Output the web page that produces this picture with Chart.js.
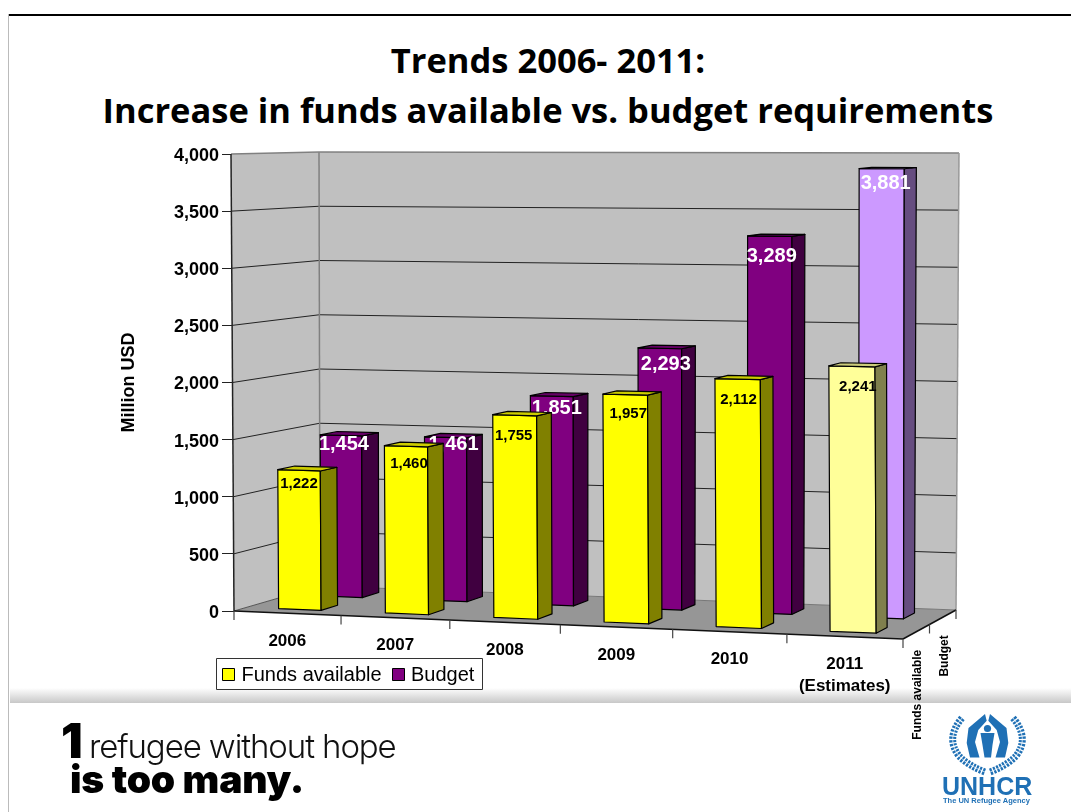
<!DOCTYPE html>
<html>
<head>
<meta charset="utf-8">
<title>Trends 2006- 2011</title>
<script src="https://cdn.jsdelivr.net/npm/chart.js@4"></script>
<style>
    html, body { margin: 0; padding: 0; background: #fff; }
    #page { position: relative; width: 1071px; height: 812px; overflow: hidden; }
    #page div, #page svg { position: absolute; }
    #topline { left: 8px; top: 14px; right: 0; height: 2px; background: #000; }
    #leftline { left: 8px; top: 14px; bottom: 0; width: 1px; background: #bbb; }
    #band { left: 10px; right: 0; top: 688px; height: 15px; background: linear-gradient(#fff, #c8c8c8); }
    #title {
        left: 0; width: 1096px; top: 35px; text-align: center;
        font: 700 34.5px/50px "Open Sans", sans-serif; color: #000;
    }
    canvas { position: absolute; left: 0; top: 0; }
    #one { left: 61px; top: 714px; font: 900 48px/54px Inter, sans-serif; color: #000; letter-spacing: -2px; }
    #line1 { left: 89px; top: 724px; font: 300 33px/44px Inter, sans-serif; color: #111; letter-spacing: -1.1px; white-space: nowrap; }
    #line2 { left: 70px; top: 757px; font: 900 39px/44px Inter, sans-serif; color: #000; letter-spacing: -0.2px; white-space: nowrap; }
    #unhcr { left: 942px; top: 773px; font: 700 25px/26px "Liberation Sans", sans-serif; color: #1f70b5; }
    #agency { left: 943px; top: 796px; font: 700 7.5px/10px "Liberation Sans", sans-serif; color: #1f70b5; white-space: nowrap; }
</style>
</head>
<body>
<div id="page">
    <div id="topline"></div>
    <div id="leftline"></div>
    <div id="band"></div>
    <div id="title">Trends 2006- 2011:<br>Increase in funds available vs. budget requirements</div>
    <canvas id="trendChart" width="1071" height="812"></canvas>
    <div id="one">1</div>
    <div id="line1">refugee without hope</div>
    <div id="line2">is too many.</div>
    <svg style="left:945px;top:708px" width="85" height="68" viewBox="0 0 85 68">
        <g fill="none" stroke="#1f70b5">
            <path d="M17 10 Q0 30 14 48 Q24 58 40 64" stroke-width="7" stroke-dasharray="2.2 1.3"/>
            <path d="M68 10 Q85 30 71 48 Q61 58 45 64" stroke-width="7" stroke-dasharray="2.2 1.3"/>
            <path d="M17 10 Q0 30 14 48 Q24 58 40 64" stroke="#fff" stroke-width="0.7"/>
            <path d="M68 10 Q85 30 71 48 Q61 58 45 64" stroke="#fff" stroke-width="0.7"/>
        </g>
        <g fill="#1f70b5">
            <path d="M40 6 L23.5 20 L21.7 35 L25 49.5 L34.5 49.5 L30 34 L33.3 22 L41.7 12.7 Z"/>
            <path d="M45 6 L61.5 20 L63.3 35 L60 49.5 L50.5 49.5 L55 34 L51.7 22 L43.3 12.7 Z"/>
            <circle cx="42.5" cy="20.5" r="3.6"/>
            <path d="M35.5 25 L49.5 25 L47.5 37 L46 49.5 L39.5 49.5 L37.5 37 Z"/>
        </g>
    </svg>
    <div id="unhcr">UNHCR</div>
    <div id="agency">The UN Refugee Agency</div>
</div>
<script>
const categories = ['2006', '2007', '2008', '2009', '2010', ['2011', '(Estimates)']]
const fundsAvailable = [1222, 1460, 1755, 1957, 2112, 2241]
const budget = [1454, 1461, 1851, 2293, 3289, 3881]
const fundsColors = ['#FFFF00', '#FFFF00', '#FFFF00', '#FFFF00', '#FFFF00', '#FFFF99']
const budgetColors = ['#800080', '#800080', '#800080', '#800080', '#800080', '#CC99FF']
const yTicks = [0, 500, 1000, 1500, 2000, 2500, 3000, 3500, 4000]

// corners of the 3d box in canvas pixels: front/back, left/right, bottom/top
const box = {
    flb: [234, 611], flt: [231, 154], frb: [903, 639], frt: [900, 159],
    blb: [320, 586], blt: [319, 152], brb: [956, 610], brt: [959, 153],
}
const depthSlots = { funds: [0.15, 0.35], budget: [0.65, 0.85] }
const perspective = 1.05

// value labels sit a little off centre on each column
const fundsLabelShift = [[0, 14], [3, 18], [-1, 21], [3, 19], [1, 21], [6, 20]]
const budgetLabelShift = [[3, 9], [8, 7], [5, 12], [6, 16], [2, 20], [4, 15]]

function mix(a, b, t) {
    return [a[0] + (b[0] - a[0]) * t, a[1] + (b[1] - a[1]) * t]
}

// u: along the categories, v: up the value axis, w: into the depth
function project(u, v, w) {
    let k = u / (perspective - (perspective - 1) * u)
    let fb = mix(box.flb, box.frb, k)
    let ft = mix(box.flt, box.frt, k)
    let bb = mix(box.blb, box.brb, k)
    let bt = mix(box.blt, box.brt, k)
    return mix(mix(fb, ft, v), mix(bb, bt, v), w)
}

function shade(hex, f) {
    let n = parseInt(hex.slice(1), 16)
    let r = Math.round((n >> 16 & 255) * f)
    let g = Math.round((n >> 8 & 255) * f)
    let b = Math.round((n & 255) * f)
    return `rgb(${r},${g},${b})`
}

function poly(ctx, pts, fill, stroke, width) {
    ctx.beginPath()
    pts.forEach((p, i) => i ? ctx.lineTo(p[0], p[1]) : ctx.moveTo(p[0], p[1]))
    ctx.closePath()
    if (fill) { ctx.fillStyle = fill; ctx.fill() }
    if (stroke) {
        ctx.strokeStyle = stroke
        ctx.lineWidth = width || 1
        ctx.lineJoin = 'round'
        ctx.stroke()
    }
}

function line(ctx, a, b, color, width) {
    ctx.beginPath()
    ctx.moveTo(a[0], a[1])
    ctx.lineTo(b[0], b[1])
    ctx.strokeStyle = color
    ctx.lineWidth = width || 1
    ctx.stroke()
}

function drawWalls(chart) {
    let ctx = chart.ctx
    let y = chart.scales.y
    poly(ctx, [project(0, 0, 0), project(0, 1, 0), project(0, 1, 1), project(0, 0, 1)], '#C0C0C0')
    poly(ctx, [project(0, 0, 1), project(0, 1, 1), project(1, 1, 1), project(1, 0, 1)], '#C0C0C0')
    poly(ctx, [project(0, 0, 0), project(1, 0, 0), project(1, 0, 1), project(0, 0, 1)], '#969696')

    y.ticks.forEach(t => {
        if (t.value === y.min || t.value === y.max) return
        let v = t.value / y.max
        line(ctx, project(0, v, 0), project(0, v, 1), '#222')
        line(ctx, project(0, v, 1), project(1, v, 1), '#222')
    })

    line(ctx, project(0, 1, 0), project(0, 1, 1), '#808080', 1.5)
    line(ctx, project(0, 1, 1), project(1, 1, 1), '#808080', 1.5)
    line(ctx, project(1, 1, 1), project(1, 0, 1), '#999', 1.5)
    line(ctx, project(0, 0, 1), project(0, 1, 1), '#808080', 1.5)
    line(ctx, project(0, 0, 0), project(0, 1, 0), '#222', 1.5)
    line(ctx, project(0, 0, 0), project(0, 0, 1), '#555', 1)
    line(ctx, project(0, 0, 1), project(1, 0, 1), '#777', 1)
    line(ctx, project(0, 0, 0), project(1, 0, 0), '#111', 1.5)
    line(ctx, project(1, 0, 0), project(1, 0, 1), '#111', 1.5)

    // tick marks under the floor edges
    let n = categories.length
    for (let i = 0; i <= n; i++) {
        let p = project(i / n, 0, 0)
        line(ctx, p, [p[0], p[1] + 9], '#444', 1.2)
    }
    for (let d = 0.5; d <= 1; d += 0.5) {
        let p = project(1, 0, d)
        line(ctx, p, [p[0], p[1] + 9], '#444', 1.2)
    }
}

function drawSeries(chart, index, slot, font, color, shifts) {
    let ctx = chart.ctx
    let area = chart.chartArea
    let meta = chart.getDatasetMeta(index)
    let values = chart.data.datasets[index].data
    let [w0, w1] = slot
    meta.data.forEach((el, i) => {
        let props = el.getProps(['x', 'y', 'width'], true)
        let u0 = (props.x - props.width / 2 - area.left) / area.width
        let u1 = (props.x + props.width / 2 - area.left) / area.width
        let v = (area.bottom - props.y) / area.height
        let fill = el.options.backgroundColor

        // front, side and top faces of the column
        poly(ctx, [project(u0, 0, w0), project(u1, 0, w0), project(u1, v, w0), project(u0, v, w0)], fill, '#000', 1.2)
        poly(ctx, [project(u1, 0, w0), project(u1, 0, w1), project(u1, v, w1), project(u1, v, w0)], shade(fill, 0.5), '#000', 1.2)
        poly(ctx, [project(u0, v, w0), project(u1, v, w0), project(u1, v, w1), project(u0, v, w1)], shade(fill, 0.8), '#000', 1.2)

        let top = project((u0 + u1) / 2, v, w0)
        ctx.font = font
        ctx.fillStyle = color
        ctx.textAlign = 'center'
        ctx.textBaseline = 'middle'
        ctx.fillText(values[i].toLocaleString('en-US'), top[0] + shifts[i][0], top[1] + shifts[i][1])
    })
}

function drawAxisText(chart) {
    let ctx = chart.ctx
    let n = categories.length
    ctx.fillStyle = '#000'
    ctx.textAlign = 'center'
    ctx.textBaseline = 'middle'
    ctx.font = 'bold 17px "Liberation Sans"'
    categories.forEach((c, i) => {
        let p = project((i + 0.5) / n, 0, 0)
        let rows = [].concat(c)
        rows.forEach((r, j) => ctx.fillText(r, p[0], p[1] + 28 + j * 22))
    })

    // series names along the depth axis
    ctx.font = 'bold 12px "Liberation Sans"'
    ctx.textAlign = 'right'
    chart.data.datasets.forEach((ds, i) => {
        let slot = i === 0 ? depthSlots.funds : depthSlots.budget
        let p = project(1, 0, (slot[0] + slot[1]) / 2)
        ctx.save()
        ctx.translate(p[0] + 1.5, p[1] + 18)
        ctx.rotate(-Math.PI / 2)
        ctx.fillText(ds.label, 0, 0)
        ctx.restore()
    })
}

function drawLegendBox(chart) {
    let ctx = chart.ctx
    let sets = chart.data.datasets
    ctx.fillStyle = '#fff'
    ctx.fillRect(216.5, 658.5, 266, 31)
    ctx.strokeStyle = '#333'
    ctx.lineWidth = 1
    ctx.strokeRect(216.5, 658.5, 266, 31)
    ctx.font = '20px "Liberation Sans"'
    ctx.textAlign = 'left'
    ctx.textBaseline = 'middle'
    let slots = [222.5, 392.5]
    sets.forEach((ds, i) => {
        ctx.fillStyle = ds.backgroundColor[0]
        ctx.fillRect(slots[i], 668.5, 12, 12)
        ctx.strokeStyle = '#000'
        ctx.strokeRect(slots[i], 668.5, 12, 12)
        ctx.fillStyle = '#000'
        ctx.fillText(ds.label, slots[i] + (i ? 18.5 : 19), 675)
    })
}

const box3d = {
    id: 'box3d',
    beforeDatasetsDraw(chart) {
        drawWalls(chart)
        // budget row stands behind the funds row, labels get covered by it
        drawSeries(chart, 1, depthSlots.budget, 'bold 20px "Liberation Sans"', '#fff', budgetLabelShift)
        drawSeries(chart, 0, depthSlots.funds, 'bold 15px "Liberation Sans"', '#000', fundsLabelShift)
        drawAxisText(chart)
        drawLegendBox(chart)
        return false
    },
}

let ctx = document.getElementById('trendChart').getContext('2d')
new Chart(ctx, {
    type: 'bar',
    plugins: [box3d],
    data: {
        labels: categories,
        datasets: [
            { label: 'Funds available', data: fundsAvailable, backgroundColor: fundsColors },
            { label: 'Budget', data: budget, backgroundColor: budgetColors },
        ],
    },
    options: {
        responsive: false,
        animation: false,
        grouped: false,
        barPercentage: 0.4,
        categoryPercentage: 1,
        layout: { padding: { left: 116, right: 168, top: 154, bottom: 201 } },
        plugins: { legend: { display: false }, tooltip: { enabled: false } },
        scales: {
            x: { display: false },
            y: {
                min: 0,
                max: 4000,
                afterBuildTicks(scale) { scale.ticks = yTicks.map(value => ({ value })) },
                afterFit(scale) { scale.width = 118 },
                border: { display: false },
                grid: { drawOnChartArea: false, tickColor: '#222', tickLength: 12 },
                ticks: {
                    color: '#000',
                    padding: 3,
                    labelOffset: 2,
                    font: { family: '"Liberation Sans"', weight: 'bold', size: 18 },
                    callback: value => value.toLocaleString('en-US'),
                },
                title: {
                    display: true,
                    text: 'Million USD',
                    color: '#000',
                    padding: { top: 2, bottom: 0 },
                    font: { family: '"Liberation Sans"', weight: 'bold', size: 18 },
                },
            },
        },
    },
})
</script>
</body>
</html>
